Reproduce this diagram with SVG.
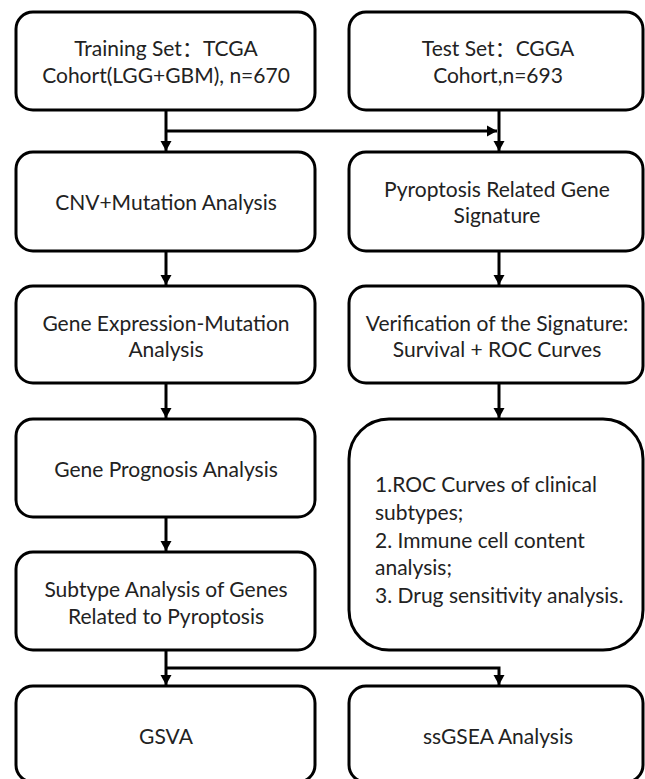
<svg xmlns="http://www.w3.org/2000/svg" width="645" height="779" viewBox="0 0 645 779">
  <style>
    .box { fill: #ffffff; stroke: #000000; stroke-width: 3; }
    .t { font-family: Lato, "Noto Sans CJK SC", sans-serif; font-weight: 400; font-size: 21px; fill: #222222; text-anchor: middle; }
    .tl { text-anchor: start; }
    .conn { fill: none; stroke: #000000; stroke-width: 3; stroke-linejoin: miter; }
  </style>
  <defs>
    <marker id="arrow" markerUnits="userSpaceOnUse" markerWidth="11" markerHeight="12" refX="10" refY="6" orient="auto">
      <path d="M0,0.5 L10,6 L0,11.5 Z" fill="#000000"/>
    </marker>
  </defs>
  <rect x="0" y="0" width="645" height="779" fill="#ffffff"/>

  <g id="connectors">
    <path class="conn" d="M166,110 V151" marker-end="url(#arrow)"/>
    <path class="conn" d="M166,131 H497" marker-end="url(#arrow)"/>
    <path class="conn" d="M499,110 V151" marker-end="url(#arrow)"/>
    <path class="conn" d="M166,251 V285" marker-end="url(#arrow)"/>
    <path class="conn" d="M499,251 V285" marker-end="url(#arrow)"/>
    <path class="conn" d="M166,383 V418" marker-end="url(#arrow)"/>
    <path class="conn" d="M499,383 V418" marker-end="url(#arrow)"/>
    <path class="conn" d="M166,517 V551" marker-end="url(#arrow)"/>
    <path class="conn" d="M166,650 V685" marker-end="url(#arrow)"/>
    <path class="conn" d="M166,668 H499 V685" marker-end="url(#arrow)"/>
  </g>

  <g id="training-set">
    <rect class="box" x="16" y="12" width="299" height="98" rx="17"/>
    <text class="t" x="166" y="56">Training Set：TCGA</text>
    <text class="t" x="166" y="83">Cohort(LGG+GBM), n=670</text>
  </g>
  <g id="test-set">
    <rect class="box" x="349" y="12" width="294" height="98" rx="17"/>
    <text class="t" x="498" y="56">Test Set：CGGA</text>
    <text class="t" x="498" y="83">Cohort,n=693</text>
  </g>
  <g id="cnv-mutation">
    <rect class="box" x="16" y="152" width="299" height="99" rx="17"/>
    <text class="t" x="166" y="210">CNV+Mutation Analysis</text>
  </g>
  <g id="signature">
    <rect class="box" x="349" y="152" width="294" height="99" rx="17"/>
    <text class="t" x="497" y="197">Pyroptosis Related Gene</text>
    <text class="t" x="497" y="223">Signature</text>
  </g>
  <g id="expression-mutation">
    <rect class="box" x="16" y="286" width="299" height="97" rx="17"/>
    <text class="t" x="166" y="331">Gene Expression-Mutation</text>
    <text class="t" x="166" y="357">Analysis</text>
  </g>
  <g id="verification">
    <rect class="box" x="349" y="286" width="294" height="97" rx="17"/>
    <text class="t" x="497" y="331">Verification of the Signature:</text>
    <text class="t" x="497" y="357">Survival + ROC Curves</text>
  </g>
  <g id="prognosis">
    <rect class="box" x="16" y="419" width="299" height="98" rx="17"/>
    <text class="t" x="166" y="477">Gene Prognosis Analysis</text>
  </g>
  <g id="further-analysis">
    <rect class="box" x="349" y="419" width="294" height="231" rx="40"/>
    <text class="t tl" x="375" y="492">1.ROC Curves of clinical</text>
    <text class="t tl" x="375" y="520">subtypes;</text>
    <text class="t tl" x="375" y="548">2. Immune cell content</text>
    <text class="t tl" x="375" y="575">analysis;</text>
    <text class="t tl" x="375" y="603">3. Drug sensitivity analysis.</text>
  </g>
  <g id="subtype">
    <rect class="box" x="16" y="552" width="299" height="98" rx="17"/>
    <text class="t" x="166" y="597">Subtype Analysis of Genes</text>
    <text class="t" x="166" y="624">Related to Pyroptosis</text>
  </g>
  <g id="gsva">
    <rect class="box" x="16" y="686" width="299" height="96" rx="17"/>
    <text class="t" x="166" y="744">GSVA</text>
  </g>
  <g id="ssgsea">
    <rect class="box" x="349" y="686" width="294" height="96" rx="17"/>
    <text class="t" x="498" y="744">ssGSEA Analysis</text>
  </g>
</svg>
